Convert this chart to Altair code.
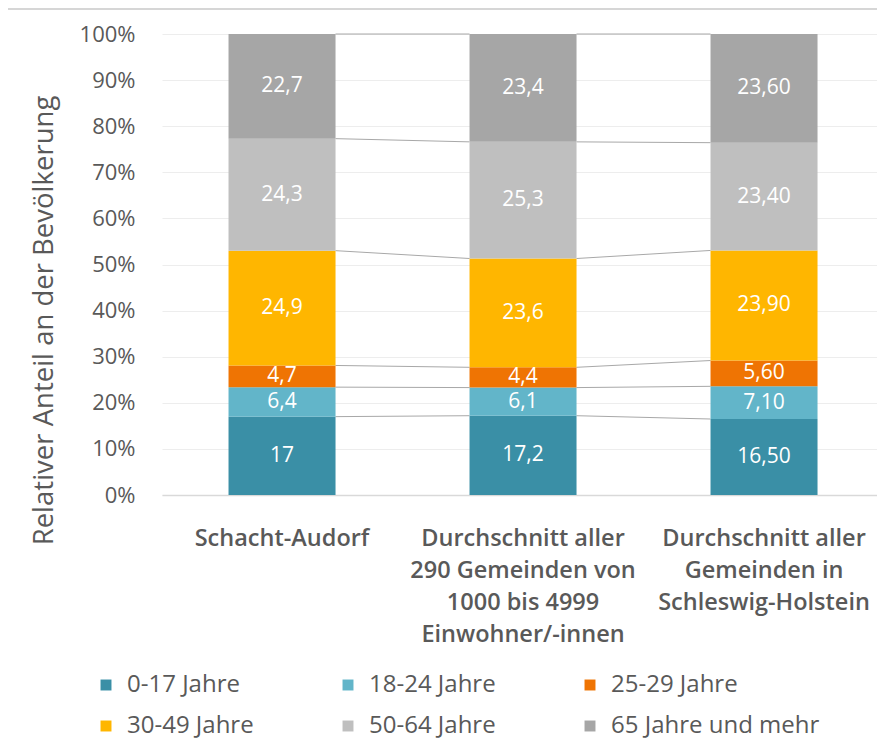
import altair as alt
import pandas as pd

groups = [
    "Schacht-Audorf",
    "Durchschnitt aller\n290 Gemeinden von\n1000 bis 4999\nEinwohner/-innen",
    "Durchschnitt aller\nGemeinden in\nSchleswig-Holstein",
]
age_groups = ["0-17 Jahre", "18-24 Jahre", "25-29 Jahre", "30-49 Jahre", "50-64 Jahre", "65 Jahre und mehr"]
colors = ["#3A8FA6", "#62B5C9", "#EF7403", "#FFB600", "#BFBFBF", "#A6A6A6"]

values_schacht = [17, 6.4, 4.7, 24.9, 24.3, 22.7]
values_290 = [17.2, 6.1, 4.4, 23.6, 25.3, 23.4]
values_sh = [16.5, 7.1, 5.6, 23.9, 23.4, 23.6]

labels_schacht = ["17", "6,4", "4,7", "24,9", "24,3", "22,7"]
labels_290 = ["17,2", "6,1", "4,4", "23,6", "25,3", "23,4"]
labels_sh = ["16,50", "7,10", "5,60", "23,90", "23,40", "23,60"]

y_ticks = [0, 0.1, 0.2, 0.3, 0.4, 0.5, 0.6, 0.7, 0.8, 0.9, 1.0]

FONT = "Open Sans"
GREY = "#595959"

series = [values_schacht, values_290, values_sh]
labels = [labels_schacht, labels_290, labels_sh]

# stacked segment table
rows = []
cums = []
for g, vals, labs in zip(groups, series, labels):
    tot = sum(vals)
    c = 0.0
    cum_list = []
    for a, v, lab in zip(age_groups, vals, labs):
        start = c / tot
        c += v
        end = c / tot
        cum_list.append(end)
        rows.append({"group": g, "age": a, "start": start, "end": end,
                     "mid": (start + end) / 2, "label": lab})
    cums.append(cum_list)
seg = pd.DataFrame(rows)

# connector lines between neighbouring bars
lrows = []
for i in range(len(groups) - 1):
    for k in range(len(age_groups)):
        lrows.append({"group": groups[i], "next": groups[i + 1],
                      "y": cums[i][k], "y2": cums[i + 1][k]})
lines = pd.DataFrame(lrows)

xscale = alt.Scale(domain=groups, paddingInner=0.556, paddingOuter=0.2614, align=0.528)

x_axis = alt.Axis(
    title=None, labelAngle=0, labelExpr="split(datum.label, '\\n')",
    labelFont=FONT, labelFontSize=23.5, labelFontWeight=600, labelColor=GREY,
    labelAlign="center", labelLineHeight=32, labelPadding=43, labelBaseline="middle",
    ticks=False, domain=True, domainColor="#D9D9D9", domainWidth=1.5,
    grid=False, labelLimit=300,
)
y_axis = alt.Axis(
    title="Relativer Anteil an der Bevölkerung", values=y_ticks, format=".0%",
    labelFont=FONT, labelFontSize=22, labelColor=GREY, labelPadding=27,
    ticks=False, domain=False, grid=True, gridColor="#EDEDED", gridWidth=1,
    titleFont=FONT, titleFontSize=27.5, titleFontWeight="normal", titleColor=GREY,
    titleAngle=270, titleX=-118, titleY=286, titleAlign="center", titleBaseline="middle",
)

base_y = alt.Scale(domain=[0, 1])

bars = alt.Chart(seg).mark_bar().encode(
    x=alt.X("group:N", sort=groups, scale=xscale, axis=x_axis),
    y=alt.Y("start:Q", scale=base_y, axis=y_axis),
    y2="end:Q",
    color=alt.Color(
        "age:N",
        scale=alt.Scale(domain=age_groups, range=colors),
        legend=alt.Legend(
            title=None, orient="none", legendX=-68, legendY=639, direction="horizontal",
            columns=3, symbolType="square", symbolSize=120, symbolStrokeWidth=0,
            labelFont=FONT, labelFontSize=24, labelColor=GREY, labelOffset=9,
            columnPadding=0, rowPadding=17, gridAlign="all", labelLimit=300,
        ),
    ),
)

texts = alt.Chart(seg).mark_text(font=FONT, fontSize=21, color="white").encode(
    x=alt.X("group:N", sort=groups),
    y=alt.Y("mid:Q"),
    text="label:N",
)

connectors = alt.Chart(lines).mark_rule(color="#A8A8A8", strokeWidth=1).encode(
    x=alt.X("group:N", sort=groups, bandPosition=1),
    x2=alt.X2("next:N", bandPosition=0),
    y="y:Q",
    y2="y2:Q",
)

frame = alt.Chart(pd.DataFrame({"k": [0]})).mark_rule(color="#C8C8C8", strokeWidth=1.5).encode(
    x=alt.value(-157), x2=alt.value(715), y=alt.value(-25)
)

chart = alt.layer(connectors, bars, texts, frame).properties(
    width=715, height=461,
    autosize=alt.AutoSizeParams(type="none"),
    padding={"left": 154, "top": 26, "right": 0, "bottom": 244},
).configure_view(stroke=None)

chart.save("out.html", embed_options={"renderer": "svg", "actions": False})
